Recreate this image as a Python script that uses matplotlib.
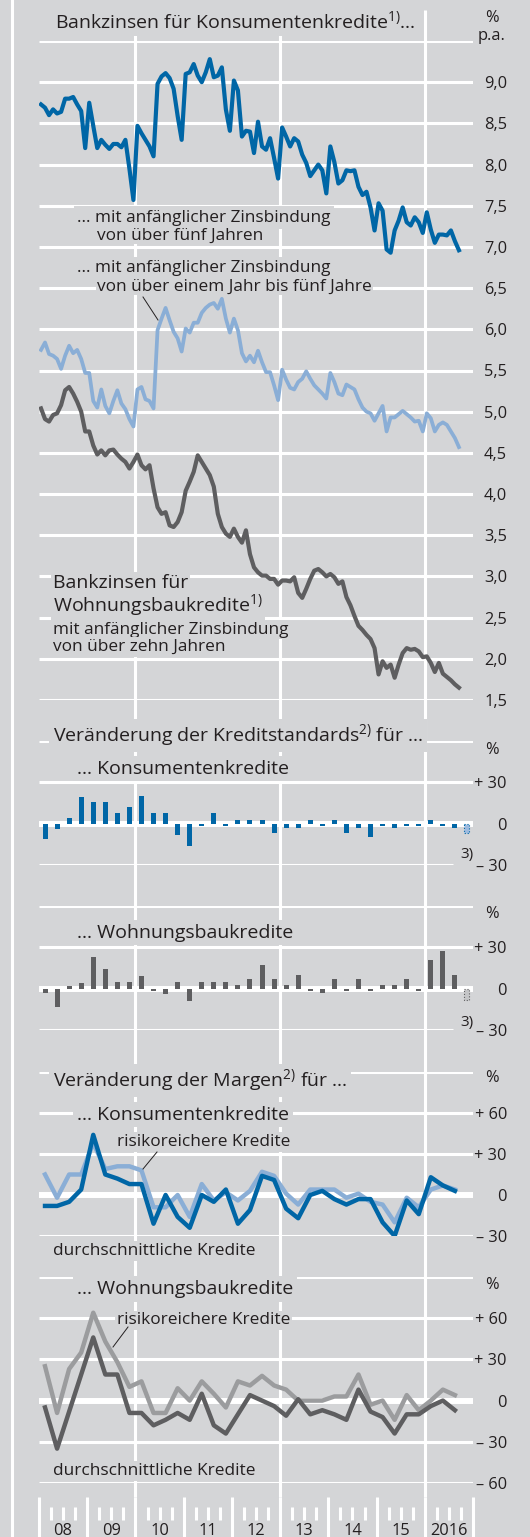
import matplotlib.pyplot as plt
import matplotlib.transforms as mtransforms
from matplotlib.lines import Line2D
import numpy as np

plt.rcParams['font.family'] = ['Open Sans', 'DejaVu Sans']
plt.rcParams['mathtext.fontset'] = 'custom'
plt.rcParams['mathtext.rm'] = 'Open Sans'
plt.rcParams['mathtext.it'] = 'Open Sans'
plt.rcParams['mathtext.bf'] = 'Open Sans'

# monthly bank rates, Jan 2008 - Sep 2016 (% p.a.)
rate_consumer_5y = [
    8.73, 8.69, 8.60, 8.67, 8.62, 8.64, 8.80, 8.80, 8.82, 8.73, 8.65, 8.20,
    8.75, 8.47, 8.20, 8.30, 8.24, 8.19, 8.25, 8.25, 8.21, 8.30, 7.95, 7.57,
    8.47, 8.38, 8.30, 8.22, 8.10, 8.98, 9.07, 9.11, 9.05, 8.92, 8.59, 8.30,
    9.10, 9.12, 9.22, 9.08, 9.00, 9.12, 9.28, 9.06, 9.08, 9.18, 8.67, 8.41,
    9.02, 8.90, 8.34, 8.41, 8.40, 8.14, 8.52, 8.22, 8.18, 8.32, 8.08, 7.83,
    8.45, 8.34, 8.22, 8.32, 8.28, 8.12, 8.02, 7.86, 7.93, 8.00, 7.93, 7.65,
    8.22, 8.03, 7.77, 7.81, 7.93, 7.92, 7.93, 7.73, 7.63, 7.67, 7.48, 7.20,
    7.53, 7.44, 6.97, 6.93, 7.20, 7.32, 7.48, 7.30, 7.26, 7.36, 7.30, 7.17,
    7.42, 7.21, 7.05, 7.15, 7.15, 7.14, 7.20, 7.07, 6.96]
rate_consumer_1to5y = [
    5.75, 5.84, 5.70, 5.68, 5.64, 5.52, 5.68, 5.80, 5.71, 5.75, 5.64, 5.47,
    5.47, 5.13, 5.05, 5.27, 5.07, 4.98, 5.13, 5.26, 5.10, 5.03, 4.91, 4.82,
    5.27, 5.30, 5.15, 5.13, 5.04, 5.99, 6.13, 6.26, 6.11, 5.97, 5.89, 5.73,
    6.01, 5.96, 6.08, 6.08, 6.20, 6.26, 6.30, 6.32, 6.25, 6.37, 6.13, 5.96,
    6.13, 5.99, 5.71, 5.61, 5.68, 5.60, 5.74, 5.60, 5.48, 5.48, 5.32, 5.14,
    5.51, 5.39, 5.29, 5.27, 5.36, 5.40, 5.49, 5.40, 5.32, 5.27, 5.22, 5.16,
    5.47, 5.36, 5.22, 5.20, 5.33, 5.30, 5.27, 5.15, 5.05, 5.00, 4.98, 4.89,
    4.98, 5.07, 4.76, 4.93, 4.93, 4.97, 5.01, 4.97, 4.93, 4.88, 4.89, 4.76,
    4.98, 4.92, 4.76, 4.84, 4.87, 4.84, 4.76, 4.68, 4.57]
rate_housing_10y = [
    5.04, 4.91, 4.88, 4.96, 4.98, 5.08, 5.26, 5.30, 5.22, 5.12, 5.00, 4.76,
    4.76, 4.59, 4.48, 4.53, 4.47, 4.53, 4.54, 4.48, 4.43, 4.39, 4.31, 4.39,
    4.48, 4.35, 4.30, 4.35, 4.07, 3.84, 3.76, 3.78, 3.62, 3.60, 3.66, 3.78,
    4.04, 4.15, 4.27, 4.47, 4.39, 4.31, 4.23, 4.09, 3.76, 3.60, 3.52, 3.48,
    3.58, 3.48, 3.41, 3.56, 3.27, 3.11, 3.05, 3.01, 3.01, 2.97, 2.97, 2.90,
    2.95, 2.95, 2.94, 2.99, 2.80, 2.74, 2.85, 2.97, 3.07, 3.09, 3.05, 3.00,
    3.03, 2.99, 2.91, 2.94, 2.75, 2.65, 2.52, 2.40, 2.35, 2.29, 2.24, 2.13,
    1.81, 1.97, 1.89, 1.93, 1.77, 1.93, 2.07, 2.13, 2.11, 2.12, 2.09, 2.02,
    2.03, 1.95, 1.84, 1.95, 1.82, 1.78, 1.74, 1.69, 1.65]

# quarterly survey results, 2008 Q1 - 2016 Q3 (%), plus expectation for Q4
std_consumer = [-11, -4, 4, 19, 16, 16, 8, 12, 20, 8, 8, -8, -16, -2, 8, -2, 3, 3,
                3, -7, -3, -3, 3, -2, 3, -7, -3, -10, -2, -3, -2, -2, 3, -2, -3]
std_consumer_expect = -7
std_housing = [-3, -13, 2, 4, 23, 14, 5, 5, 9, -2, -4, 5, -9, 5, 5, 5, 3, 7,
               17, 7, 3, 10, -2, -3, 7, -2, 7, -2, 3, 3, 7, -2, 21, 27, 10]
std_housing_expect = -8

margin_consumer_avg = [-8, -8, -5, 4, 44, 15, 12, 8, 8, -21, 0, -16, -24, 0, -5, 4, -21, -11,
                       14, 11, -10, -17, 0, 3, -3, -7, -3, -3, -20, -30, -4, -14, 13, 7, 3]
margin_consumer_risk = [15, -2, 15, 15, 38, 19, 21, 21, 18, -9, -9, 0, -16, 8, -4, 2, -4, 3,
                        17, 14, 1, -7, 4, 4, 4, -2, 1, -5, -7, -20, -2, -9, 4, 7, 4]
margin_housing_avg = [-5, -35, -8, 19, 46, 19, 19, -9, -9, -18, -14, -9, -14, 5, -18, -24, -10, 4,
                      0, -4, -11, 1, -10, -7, -10, -14, 8, -8, -12, -24, -10, -10, -4, 0, -7]
margin_housing_risk = [25, -9, 23, 35, 64, 43, 28, 10, 14, -9, -9, 9, 0, 14, 5, -5, 14, 11,
                       18, 11, 8, 0, 0, 0, 3, 3, 19, -3, 0, -14, 4, -7, 0, 8, 4]

year_labels = ['08', '09', '10', '11', '12', '13', '14', '15', '2016']
rate_ticks = np.arange(1.5, 9.01, 0.5)

W, H = 530, 1537
BG = '#d4d5d7'
TXT = '#231f20'
DBLUE = '#0066a6'
LBLUE = '#8aaed6'
DGRAY = '#5e5e60'
LGRAY = '#9b9c9e'
BIG = 14
SMALL = 12.4

months = 2008 + (np.arange(len(rate_consumer_5y)) + 0.5) / 12
quarters = 2008 + (np.arange(len(std_consumer)) + 0.5) / 4
q_expect = 2008 + (len(std_consumer) + 0.5) / 4

fig = plt.figure(figsize=(W / 100, H / 100), dpi=100, facecolor=BG)


def px_axes(top, bottom, ylim):
    ax = fig.add_axes([39 / W, 1 - bottom / H, 434 / W, (bottom - top) / H])
    ax.set_xlim(2008, 2017)
    ax.set_ylim(*ylim)
    ax.set_axis_off()
    ax.patch.set_visible(False)
    return ax


def grid(ax, values, zero=False, xmax=1.0):
    for v in values:
        ax.axhline(v, color='white', lw=4.3 if (zero and v == 0) else 2.2,
                   xmax=xmax, zorder=1, solid_capstyle='butt')


def ylabels(ax, values, labels, size=11.8):
    tr = mtransforms.blended_transform_factory(fig.transFigure, ax.transData)
    for v, s in zip(values, labels):
        ax.text(507 / W, v, s, transform=tr, ha='right', va='center_baseline',
                fontsize=size, color=TXT)


def label(x, y, s, size=BIG, pad=0.2):
    fig.text(x / W, 1 - y / H, s, fontsize=size, color=TXT, ha='left', va='baseline',
             zorder=5, bbox=dict(boxstyle='square,pad=%s' % pad, fc=BG, ec='none'))


def unit(y, s='%'):
    fig.text(492 / W, 1 - y / H, s, fontsize=11.8, color=TXT, ha='center', va='center', zorder=5)


def pointer(x0, y0, x1, y1):
    fig.add_artist(Line2D([x0 / W, x1 / W], [1 - y0 / H, 1 - y1 / H], color=TXT, lw=0.7, zorder=6))


# background: vertical grid, year ticks, left border
bg = px_axes(10, H, (H, 10))
for yr in [2010, 2013, 2016]:
    bg.vlines(yr, 10, 1497, color='white', lw=2.2, zorder=0)
bg.vlines(np.arange(2008, 2018), 1497, H, color='white', lw=2.2, clip_on=False)
qt = [y + q / 4 for y in range(2008, 2017) for q in (1, 2, 3)]
bg.vlines(qt, 1507, 1520, color='white', lw=2.2)
for k, s in enumerate(year_labels):
    bg.text(2008.5 + k, 1535, s, ha='center', va='baseline', fontsize=11.8, color=TXT)
fig.add_artist(Line2D([11.5 / W] * 2, [0, 1], color='white', lw=2.2))

# panel A: bank rates
axA = px_axes(41, 700, (1.5, 9.5))
grid(axA, np.arange(1.5, 9.51, 0.5))
axA.plot(months, rate_housing_10y, color=DGRAY, lw=3.0, zorder=3, solid_joinstyle='round')
axA.plot(months, rate_consumer_1to5y, color=LBLUE, lw=2.7, zorder=3, solid_joinstyle='round')
axA.plot(months, rate_consumer_5y, color=DBLUE, lw=3.0, zorder=3, solid_joinstyle='round')
ylabels(axA, rate_ticks, [('%.1f' % v).replace('.', ',') for v in rate_ticks])
unit(18)
unit(36, 'p.a.')
label(55, 28.5, r'Bankzinsen für Konsumentenkredite$^{1)}$...')
label(77, 221.5, '... mit anfänglicher Zinsbindung', SMALL)
label(97, 239.5, 'von über fünf Jahren', SMALL, pad=0.05)
label(77, 272.5, '... mit anfänglicher Zinsbindung', SMALL)
label(97, 290.5, 'von über einem Jahr bis fünf Jahre', SMALL, pad=0.05)
pointer(143, 297, 158, 320)
label(53, 588, 'Bankzinsen für', BIG, pad=0.1)
label(53, 611, r'Wohnungsbaukredite$^{1)}$', BIG, pad=0.1)
label(53, 633.5, 'mit anfänglicher Zinsbindung', SMALL, pad=0.1)
label(53, 651, 'von über zehn Jahren', SMALL, pad=0.1)


def bar_panel(top, bottom, values, expect, color, light):
    ax = px_axes(top, bottom, (-30, 60))
    grid(ax, [60, 30, 0], zero=True)
    grid(ax, [-30], xmax=(453 - 39) / 434)
    ax.bar(quarters, values, width=0.104, color=color, zorder=2)
    ax.bar([q_expect], [expect], width=0.104, color=light, edgecolor=color,
           linestyle=':', lw=0.8, zorder=2)
    ylabels(ax, [30, 0, -30], ['+ 30', '0', '– 30'])
    return ax


axB = bar_panel(741, 865, std_consumer, std_consumer_expect, DBLUE, '#9dbbe0')
unit(750)
label(53, 741.5, r'Veränderung der Kreditstandards$^{2)}$ für ...')
label(77, 773.5, '... Konsumentenkredite')
fig.text(460 / W, 1 - 858 / H, '3)', fontsize=11, color=TXT)

axC = bar_panel(906, 1030, std_housing, std_housing_expect, DGRAY, '#c4c5c7')
unit(914)
label(77, 937.5, '... Wohnungsbaukredite')
fig.text(460 / W, 1 - 1026 / H, '3)', fontsize=11, color=TXT)

# panel D: margins consumer credit
axD = px_axes(1072, 1236, (-30, 90))
grid(axD, [90, 60, 30, 0, -30], zero=True)
axD.plot(quarters, margin_consumer_risk, color=LBLUE, lw=3.2, zorder=3, solid_joinstyle='round')
axD.plot(quarters, margin_consumer_avg, color=DBLUE, lw=3.2, zorder=3, solid_joinstyle='round')
ylabels(axD, [60, 30, 0, -30], ['+ 60', '+ 30', '0', '– 30'])
unit(1078)
label(53, 1086.5, r'Veränderung der Margen$^{2)}$ für ...')
label(77, 1119.5, '... Konsumentenkredite')
label(117, 1146, 'risikoreichere Kredite', SMALL, pad=0.1)
pointer(157, 1152, 143, 1169)
label(53, 1255, 'durchschnittliche Kredite', SMALL, pad=0.1)

# panel E: margins housing credit
axE = px_axes(1277, 1483, (-60, 90))
grid(axE, [90, 60, 30, 0, -30, -60], zero=True)
axE.plot(quarters, margin_housing_risk, color=LGRAY, lw=3.2, zorder=3, solid_joinstyle='round')
axE.plot(quarters, margin_housing_avg, color=DGRAY, lw=3.2, zorder=3, solid_joinstyle='round')
ylabels(axE, [60, 30, 0, -30, -60], ['+ 60', '+ 30', '0', '– 30', '– 60'])
unit(1285)
label(77, 1294, '... Wohnungsbaukredite')
label(117, 1324.5, 'risikoreichere Kredite', SMALL, pad=0.1)
pointer(128, 1327, 113, 1347)
label(53, 1475, 'durchschnittliche Kredite', SMALL, pad=0.1)

fig.savefig('out.png', dpi=100, facecolor=BG)
